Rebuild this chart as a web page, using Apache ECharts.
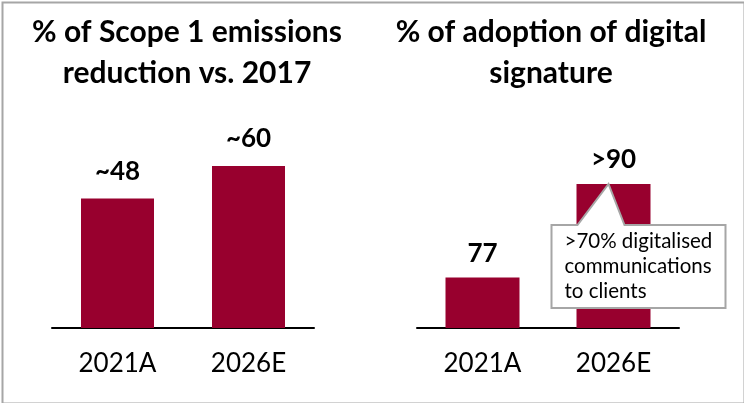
<!DOCTYPE html>
<html>
<head>
<meta charset="utf-8">
<script src="https://cdn.jsdelivr.net/npm/echarts@6/dist/echarts.min.js"></script>
<style>
html,body{margin:0;padding:0;background:#fff;}
#main{width:744px;height:403px;}
</style>
</head>
<body>
<div id="main"></div>
<script>
const categories = ['2021A', '2026E'];
const emissionsValues = [48, 60];
const emissionsLabels = ['~48', '~60'];
const signatureValues = [77, 90];
const signatureLabels = ['77', '>90'];
const titles = ['% of Scope 1 emissions\nreduction vs. 2017', '% of adoption of digital\nsignature'];
const calloutText = '>70% digitalised\ncommunications\nto clients';

const FONT = 'Lato, "Open Sans", sans-serif';
const BAR = '#98002E';

const chart = echarts.init(document.getElementById('main'), null, {renderer: 'canvas'});

function labelFn(labels) {
  return p => labels[p.dataIndex];
}

const frame = {type: 'rect', left: 0, top: 0, shape: {x: 1, y: 1, width: 742, height: 401},
  style: {fill: 'none', stroke: '#a6a6a6', lineWidth: 2}, silent: true};

const option = {
  animation: false,
  backgroundColor: '#fff',
  title: [
    {text: titles[0], left: 182, top: 7, textAlign: 'center',
     textStyle: {fontFamily: FONT, fontWeight: 'bold', fontSize: 30, lineHeight: 41, color: '#000'}},
    {text: titles[1], left: 546, top: 7, textAlign: 'center',
     textStyle: {fontFamily: FONT, fontWeight: 'bold', fontSize: 30, lineHeight: 41, color: '#000'}}
  ],
  grid: [
    {left: 52, width: 262, top: 112, bottom: 75},
    {left: 417, width: 262, top: 112, bottom: 75}
  ],
  xAxis: [0, 1].map(i => ({
    type: 'category', gridIndex: i, data: categories,
    axisLine: {lineStyle: {color: '#000', width: 2}},
    axisTick: {show: false},
    axisLabel: {fontFamily: FONT, fontSize: 26, color: '#000', margin: 23}
  })),
  yAxis: [
    {type: 'value', gridIndex: 0, min: 0, max: 80, show: false},
    {type: 'value', gridIndex: 1, min: 70, max: 100, show: false}
  ],
  series: [
    {type: 'bar', xAxisIndex: 0, yAxisIndex: 0, data: emissionsValues, barWidth: 73,
     itemStyle: {color: BAR},
     label: {show: true, position: 'top', distance: 14, formatter: labelFn(emissionsLabels),
             fontFamily: FONT, fontWeight: 'bold', fontSize: 26, color: '#000'}},
    {type: 'bar', xAxisIndex: 1, yAxisIndex: 1, data: signatureValues, barWidth: 74,
     itemStyle: {color: BAR},
     label: {show: true, position: 'top', distance: 11, formatter: labelFn(signatureLabels),
             fontFamily: FONT, fontWeight: 'bold', fontSize: 26, color: '#000'}}
  ],
  graphic: [frame]
};
chart.setOption(option);

// Callout anchored to the 2026E bar top of the second chart
const apex = chart.convertToPixel({xAxisIndex: 1, yAxisIndex: 1}, [1, signatureValues[1]]);
const ax = apex[0] - 5, ay = apex[1];
const bl = ax - 57, br = ax + 117, bt = ay + 41, bb = ay + 124;
chart.setOption({
  graphic: [
    frame,
    {type: 'polygon', z: 100,
     shape: {points: [[bl, bt], [ax - 31, bt], [ax, ay], [ax + 16, bt], [br, bt], [br, bb], [bl, bb]]},
     style: {fill: '#fff', stroke: '#a6a6a6', lineWidth: 2}},
    {type: 'text', z: 101, x: bl + 13, y: bt + 4,
     style: {text: calloutText, fontFamily: FONT, fontSize: 20.5, lineHeight: 25, fill: '#000'}}
  ]
});
</script>
</body>
</html>
